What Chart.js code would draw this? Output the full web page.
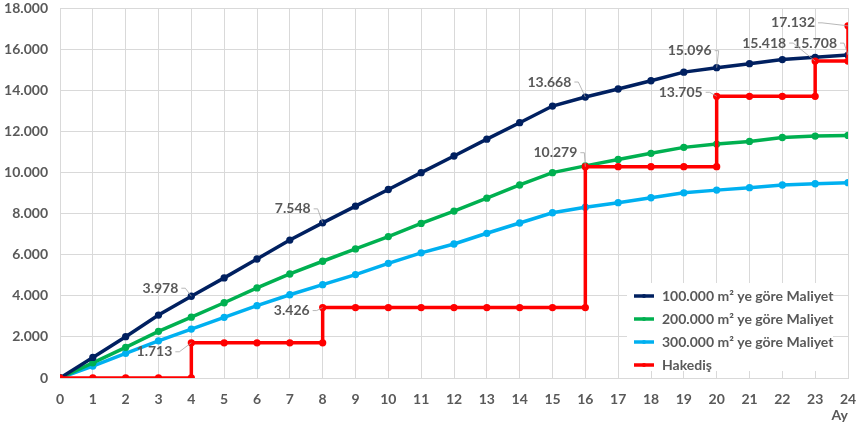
<!DOCTYPE html>
<html>
<head>
<meta charset="utf-8">
<script src="https://cdn.jsdelivr.net/npm/chart.js@4/dist/chart.umd.min.js"></script>
<style>
  html, body { margin: 0; padding: 0; background: #fff; }
  #wrap { width: 861px; height: 428px; }
</style>
</head>
<body>
<div id="wrap"><canvas id="costChart"></canvas></div>
<script>
// months on the x axis
const months = [0,1,2,3,4,5,6,7,8,9,10,11,12,13,14,15,16,17,18,19,20,21,22,23,24];

const cost100 = [0, 1000, 2010, 3060, 3978, 4870, 5790, 6710, 7548, 8360, 9170, 9990, 10800,
                 11620, 12420, 13230, 13668, 14060, 14460, 14880, 15096, 15290, 15490, 15600, 15708];
const cost200 = [0, 740, 1490, 2270, 2960, 3660, 4380, 5060, 5680, 6280, 6880, 7520, 8120,
                 8750, 9390, 9990, 10320, 10630, 10930, 11220, 11380, 11510, 11700, 11770, 11800];
const cost300 = [0, 580, 1200, 1810, 2380, 2950, 3520, 4050, 4540, 5030, 5580, 6090, 6520,
                 7040, 7540, 8040, 8310, 8530, 8770, 9010, 9140, 9260, 9390, 9450, 9500];

// progress payment (step line, jumps share the same month)
const hakedisX = [0,1,2,3,4, 4,5,6,7,8, 8,9,10,11,12,13,14,15,16, 16,17,18,19,20, 20,21,22,23, 23,24, 24];
const hakedisY = [0,0,0,0,0,
                  1713,1713,1713,1713,1713,
                  3426,3426,3426,3426,3426,3426,3426,3426,3426,
                  10279,10279,10279,10279,10279,
                  13705,13705,13705,13705,
                  15418,15418,
                  17132];

const seriesNames = ["100.000 m\u00b2 ye g\u00f6re Maliyet", "200.000 m\u00b2 ye g\u00f6re Maliyet",
                     "300.000 m\u00b2 ye g\u00f6re Maliyet", "Hakedi\u015f"];
const seriesColors = ["#002060", "#00b050", "#00b0f0", "#ff0000"];

// labelled points: [month, value]
const labelPoints = [[4, 3978], [8, 7548], [16, 13668], [20, 15096], [24, 15708],
                     [4, 1713], [8, 3426], [16, 10279], [20, 13705], [23, 15418], [24, 17132]];
// where each label's text sits (right edge / middle) relative to its point
const labelOffsets = [[-13, -8], [-12, -14], [-14, -15], [-5, -17], [-11, -12],
                      [-19, 9], [-13, 3], [-8, -14], [-14, -4], [-29, -18], [-33, -3]];

const textGray = "#595959";
const fontFamily = "Lato, 'Liberation Sans', sans-serif";

function fmt(v) {
    return String(Math.round(v)).replace(/\B(?=(\d{3})+(?!\d))/g, ".");
}

function toXY(xs, ys) {
    return xs.map((x, i) => ({ x: x, y: ys[i] }));
}

const valueLabels = {
    id: "valueLabels",
    afterDatasetsDraw(chart) {
        const ctx = chart.ctx;
        const xs = chart.scales.x, ys = chart.scales.y;
        ctx.save();
        ctx.font = "bold 14px " + fontFamily;
        ctx.textAlign = "right";
        ctx.textBaseline = "middle";
        labelPoints.forEach((p, i) => {
            const px = xs.getPixelForValue(p[0]);
            const py = ys.getPixelForValue(p[1]);
            const tx = px + labelOffsets[i][0];
            const ty = py + labelOffsets[i][1];
            ctx.strokeStyle = "#a6a6a6";
            ctx.lineWidth = 0.8;
            ctx.beginPath();
            ctx.moveTo(tx + 3, ty);
            ctx.lineTo(tx + 7, ty);
            ctx.lineTo(px, py);
            ctx.stroke();
            ctx.fillStyle = textGray;
            ctx.fillText(fmt(p[1]), tx, ty);
        });
        ctx.restore();
    }
};

// legend box sits inside the plot, over the grid
const sideLegend = {
    id: "sideLegend",
    beforeDatasetsDraw(chart) {
        const ctx = chart.ctx;
        ctx.save();
        ctx.fillStyle = "#ffffff";
        ctx.fillRect(627, 283, 206, 88);
        ctx.restore();
    },
    afterDraw(chart) {
        const ctx = chart.ctx;
        ctx.save();
        ctx.font = "bold 14px " + fontFamily;
        ctx.textAlign = "left";
        ctx.textBaseline = "middle";
        seriesNames.forEach((name, i) => {
            const y = 296 + i * 23;
            ctx.strokeStyle = seriesColors[i];
            ctx.lineWidth = 3.5;
            ctx.beginPath();
            ctx.moveTo(634, y);
            ctx.lineTo(654, y);
            ctx.stroke();
            ctx.fillStyle = seriesColors[i];
            ctx.beginPath();
            ctx.arc(644, y, 2, 0, Math.PI * 2);
            ctx.fill();
            ctx.fillStyle = textGray;
            ctx.fillText(name, 662, y);
        });
        ctx.restore();
    }
};

function lineSet(i, data, order) {
    return {
        label: seriesNames[i],
        data: data,
        borderColor: seriesColors[i],
        backgroundColor: seriesColors[i],
        borderWidth: 3.5,
        pointRadius: 1.9,
        pointHoverRadius: 1.9,
        tension: 0,
        fill: false,
        order: order
    };
}

new Chart(document.getElementById("costChart"), {
    type: "line",
    data: {
        datasets: [
            lineSet(0, toXY(months, cost100), 1),
            lineSet(1, toXY(months, cost200), 2),
            lineSet(2, toXY(months, cost300), 3),
            lineSet(3, toXY(hakedisX, hakedisY), 0)
        ]
    },
    options: {
        responsive: true,
        maintainAspectRatio: false,
        animation: false,
        layout: { padding: { top: 8, right: 13, left: 0, bottom: 0 } },
        plugins: {
            legend: { display: false },
            tooltip: { enabled: false }
        },
        scales: {
            x: {
                type: "linear",
                min: 0,
                max: 24,
                ticks: { stepSize: 1, color: textGray, font: { family: fontFamily, size: 14, weight: "bold" }, padding: 13 },
                grid: { color: "#d9d9d9", drawTicks: false },
                border: { color: "#d9d9d9" },
                title: { display: true, text: "Ay", align: "end", color: textGray,
                         font: { family: fontFamily, size: 14, weight: "bold" }, padding: { top: 3 } },
                afterFit(scale) {
                    scale.height = 50;
                    scale.paddingLeft = 0;
                    scale.paddingRight = 0;
                }
            },
            y: {
                min: 0,
                max: 18000,
                ticks: { stepSize: 2000, color: textGray, font: { family: fontFamily, size: 14, weight: "bold" },
                         padding: 12, callback: v => fmt(v) },
                grid: { color: "#d9d9d9", drawTicks: false },
                border: { display: false },
                afterFit(scale) {
                    scale.width = 60;
                    scale.paddingTop = 0;
                    scale.paddingBottom = 0;
                }
            }
        }
    },
    plugins: [valueLabels, sideLegend]
});
</script>
</body>
</html>
